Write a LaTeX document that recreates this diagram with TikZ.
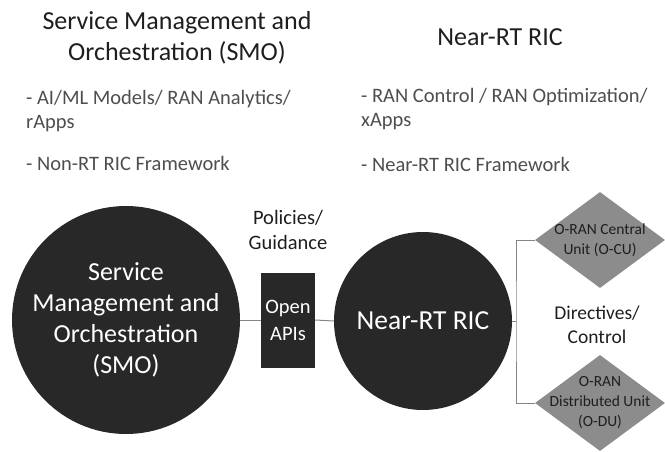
\documentclass[tikz,border=0pt]{standalone}
\usepackage{fontspec}
\setmainfont{Carlito}
\usetikzlibrary{shapes.geometric}
\definecolor{dark}{HTML}{282828}
\definecolor{dia}{HTML}{8C8C8C}
\definecolor{txt}{HTML}{1E1E1E}
\definecolor{sub}{HTML}{4E4E4E}
\definecolor{ln}{HTML}{858585}
\tikzset{
  bigcirc/.style={circle, fill=dark, draw=none, text=white, align=center, inner sep=0pt},
  apibox/.style={rectangle, fill=dark, text=white, align=center, inner sep=0pt},
  unit/.style={diamond, fill=dia, draw=none, inner sep=0pt, minimum width=130pt, minimum height=96pt},
  unittext/.style={text=txt, align=center, inner sep=0pt, font=\fontsize{15.5}{20}\selectfont},
  link/.style={draw=ln, line width=1pt},
  title/.style={text=txt, align=center, font=\fontsize{26}{31}\selectfont},
  bullet/.style={text=sub, align=left, anchor=west, inner sep=0pt, font=\fontsize{20.5}{24}\selectfont},
  lbl/.style={text=txt, align=center, font=\fontsize{20.5}{25}\selectfont}
}
\begin{document}
\begin{tikzpicture}[x=1pt,y=-1pt]
\useasboundingbox (0,0) rectangle (665,452);
% top texts
\node[title] (t1) at (177,38) {Service Management and\\Orchestration (SMO)};
\node[title] (t2) at (500,37) {Near-RT RIC};
\node[bullet] (b1) at (26,111) {- AI/ML Models/ RAN Analytics/\\rApps};
\node[bullet] (b2) at (26,163) {- Non-RT RIC Framework};
\node[bullet] (b3) at (361,109) {- RAN Control / RAN Optimization/\\xApps};
\node[bullet] (b4) at (361,164) {- Near-RT RIC Framework};
% main shapes
\node[bigcirc, minimum size=228pt, font=\fontsize{26}{31}\selectfont] (smo) at (126,320) {Service\\Management and\\Orchestration\\(SMO)};
\node[apibox, minimum width=54pt, minimum height=95pt, font=\fontsize{20.5}{27}\selectfont] (api) at (288,320) {Open\\APIs};
\node[bigcirc, minimum size=178pt, font=\fontsize{27.5}{32}\selectfont] (ric) at (423,321) {Near-RT RIC};
\node[lbl] (pol) at (288,230) {Policies/\\Guidance};
\node[unit] (cu) at (600,240) {};
\node[unittext] (cut) at (cu) {O-RAN Central\\Unit (O-CU)};
\node[unit] (du) at (600,403) {};
\node[unittext] (dut) at (du) {O-RAN\\Distributed Unit\\(O-DU)};
\node[lbl, font=\fontsize{19.5}{23.5}\selectfont] (dir) at (597,325) {Directives/\\Control};
% connectors
\coordinate (j) at (516,321);
\draw[link] (smo.east) -- (api.west);
\draw[link] (api.east) -- (ric.west);
\draw[link] (ric.east) -- (j);
\draw[link] (cu.west) -| (j) |- (du.west);
\end{tikzpicture}
\end{document}
